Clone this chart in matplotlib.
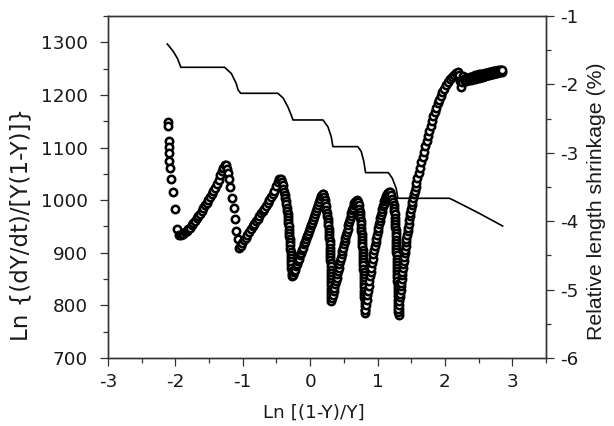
import matplotlib
matplotlib.use("Agg")
import matplotlib.pyplot as plt
from matplotlib.ticker import MultipleLocator

# --- scatter: Ln {(dY/dt)/[Y(1-Y)]} vs Ln [(1-Y)/Y] ---
col1_x = [-2.107, -2.107, -2.096, -2.096, -2.092, -2.092, -2.081, -2.067, -2.033, -2.007, -1.982, -1.945]
col1_y = [1148, 1140, 1113, 1101, 1089, 1075, 1062, 1041, 1015, 983, 945, 933]

rise1_x = [-1.91, -1.885, -1.86, -1.835, -1.81, -1.785, -1.76, -1.735, -1.71, -1.685, -1.66, -1.635, -1.61,
           -1.585, -1.56, -1.535, -1.51, -1.485, -1.46, -1.435, -1.41, -1.385, -1.36, -1.335, -1.31, -1.29, -1.27]
rise1_y = [933, 936, 939, 942, 945, 948, 952, 957, 961, 966, 970, 974, 980,
           985, 990, 995, 1001, 1006, 1012, 1018, 1024, 1030, 1038, 1047, 1056, 1062, 1067]

col2_x = [-1.25, -1.235, -1.22, -1.205, -1.19, -1.155, -1.135, -1.12, -1.095, -1.07, -1.055]
col2_y = [1066, 1060, 1051, 1040, 1025, 1005, 986, 964, 942, 926, 910]

rise2_x = [-1.03, -1.005, -0.98, -0.955, -0.93, -0.905, -0.88, -0.855, -0.83, -0.805, -0.78, -0.755,
           -0.73, -0.705, -0.68, -0.655, -0.63, -0.605, -0.58, -0.555, -0.53, -0.505, -0.48, -0.455]
rise2_y = [913, 918, 924, 929, 934, 940, 945, 950, 955, 960, 965, 970,
           975, 979, 984, 989, 995, 1000, 1006, 1011, 1018, 1026, 1034, 1041]

fall3_x = [-0.44, -0.425, -0.41, -0.398, -0.386, -0.376, -0.368, -0.36, -0.352, -0.346, -0.34, -0.335,
           -0.331, -0.327, -0.323, -0.319, -0.315, -0.311, -0.307, -0.303, -0.30, -0.297, -0.294, -0.291,
           -0.288, -0.285, -0.282, -0.279, -0.277, -0.275, -0.273, -0.27]
fall3_y = [1040, 1034, 1028, 1022, 1016, 1010, 1004, 998, 992, 986, 980, 974,
           968, 962, 956, 950, 944, 938, 932, 926, 920, 914, 908, 902,
           896, 890, 884, 878, 872, 866, 860, 855]

rise3_x = [-0.255, -0.24, -0.225, -0.21, -0.195, -0.18, -0.165, -0.15, -0.135, -0.12, -0.105, -0.09,
           -0.075, -0.06, -0.045, -0.03, -0.015, 0.0, 0.015, 0.03, 0.045, 0.06, 0.075, 0.09,
           0.105, 0.12, 0.135, 0.15, 0.165, 0.18, 0.19]
rise3_y = [858, 863, 868, 874, 879, 884, 889, 895, 900, 905, 910, 916,
           921, 926, 931, 936, 941, 947, 952, 957, 962, 968, 974, 980,
           985, 991, 997, 1002, 1007, 1010, 1012]

fall4_x = [0.195, 0.208, 0.218, 0.226, 0.234, 0.241, 0.248, 0.254, 0.26, 0.265, 0.27, 0.274,
           0.278, 0.282, 0.285, 0.288, 0.291, 0.293, 0.295, 0.297, 0.299, 0.301, 0.302, 0.303,
           0.304, 0.305, 0.306, 0.307, 0.308, 0.309, 0.31, 0.311, 0.312, 0.313, 0.314]
fall4_y = [1012, 1006, 1000, 994, 988, 982, 976, 970, 964, 958, 952, 946,
           940, 934, 928, 922, 916, 910, 904, 898, 892, 886, 880, 874,
           868, 862, 856, 850, 844, 838, 832, 826, 820, 814, 809]

rise4_x = [0.325, 0.336, 0.347, 0.358, 0.369, 0.38, 0.391, 0.402, 0.413, 0.424, 0.435, 0.446,
           0.457, 0.468, 0.479, 0.49, 0.501, 0.512, 0.523, 0.534, 0.545, 0.556, 0.567, 0.578,
           0.589, 0.6, 0.611, 0.622, 0.633, 0.644, 0.655, 0.666, 0.677, 0.688]
rise4_y = [814, 820, 827, 833, 840, 846, 852, 859, 865, 871, 878, 884,
           890, 897, 903, 909, 916, 922, 928, 934, 940, 946, 952, 958,
           964, 970, 975, 981, 986, 990, 994, 997, 999, 1000]

fall5_x = [0.714, 0.722, 0.729, 0.736, 0.742, 0.747, 0.751, 0.755, 0.758, 0.761, 0.764, 0.766,
           0.769, 0.771, 0.774, 0.777, 0.78, 0.783, 0.785, 0.787, 0.789, 0.791, 0.793, 0.795,
           0.797, 0.799, 0.801, 0.803, 0.804, 0.805, 0.806, 0.807, 0.808, 0.809, 0.81, 0.811]
fall5_y = [996, 990, 984, 978, 972, 966, 960, 954, 948, 942, 936, 930,
           924, 918, 912, 906, 900, 894, 888, 882, 876, 870, 864, 858,
           852, 846, 840, 834, 828, 822, 816, 810, 804, 798, 792, 786]

rise5_x = [0.82, 0.83, 0.84, 0.85, 0.86, 0.87, 0.88, 0.89, 0.90, 0.91, 0.92, 0.93, 0.94,
           0.95, 0.96, 0.97, 0.98, 0.99, 1.00, 1.01, 1.02, 1.03, 1.04, 1.05, 1.06,
           1.07, 1.08, 1.09, 1.10, 1.11, 1.12, 1.13, 1.14, 1.15, 1.16, 1.17, 1.18]
rise5_y = [792, 801, 810, 819, 828, 837, 846, 855, 863, 872, 880, 889, 897,
           905, 913, 920, 927, 934, 941, 948, 955, 961, 967, 972, 978,
           983, 988, 993, 998, 1002, 1005, 1008, 1011, 1013, 1014, 1015, 1015]

fall6_x = [1.20, 1.218, 1.23, 1.237, 1.243, 1.249, 1.254, 1.258, 1.261, 1.264, 1.266, 1.268, 1.27,
           1.272, 1.274, 1.276, 1.277, 1.279, 1.281, 1.283, 1.285, 1.286, 1.288, 1.29, 1.291,
           1.293, 1.294, 1.296, 1.297, 1.299, 1.30, 1.302, 1.304, 1.306, 1.308, 1.31, 1.312, 1.314, 1.316]
fall6_y = [1009, 1003, 997, 991, 985, 979, 973, 967, 961, 955, 949, 943, 937,
           931, 925, 919, 913, 907, 901, 895, 889, 883, 877, 871, 865,
           859, 853, 847, 841, 835, 829, 823, 817, 811, 805, 799, 793, 787, 781]

rise6_x = [1.305, 1.311, 1.317, 1.323, 1.329, 1.335, 1.341, 1.346, 1.352, 1.357, 1.363, 1.368,
           1.374, 1.380, 1.387, 1.394, 1.401, 1.408, 1.415, 1.422, 1.429, 1.437, 1.445, 1.452,
           1.46, 1.468, 1.477, 1.487, 1.497, 1.507, 1.518, 1.529, 1.541, 1.553, 1.564, 1.575,
           1.59, 1.61, 1.63, 1.65, 1.671, 1.69, 1.71, 1.73, 1.75, 1.77, 1.79, 1.81, 1.83,
           1.85, 1.87, 1.89, 1.91, 1.935, 1.96, 1.985, 2.01, 2.04, 2.07, 2.10, 2.13, 2.16]
rise6_y = [787, 794, 801, 808, 815, 822, 829, 836, 843, 850, 857, 864,
           871, 878, 885, 892, 899, 906, 913, 920, 927, 934, 941, 948,
           955, 962, 969, 976, 983, 990, 997, 1004, 1011, 1018, 1025, 1032,
           1042, 1052, 1062, 1072, 1082, 1092, 1102, 1112, 1122, 1132, 1141, 1150, 1159,
           1168, 1176, 1184, 1191, 1198, 1205, 1212, 1219, 1225, 1230, 1234, 1238, 1241]

top_x = [2.19, 2.21, 2.22, 2.24, 2.26, 2.27,
         2.29, 2.30, 2.31, 2.32, 2.33, 2.34, 2.35, 2.36, 2.37, 2.38, 2.39, 2.40, 2.41, 2.42,
         2.43, 2.44, 2.45, 2.46, 2.47, 2.48, 2.49, 2.50, 2.51, 2.52, 2.53, 2.54, 2.55, 2.56,
         2.57, 2.58, 2.59, 2.60, 2.61, 2.62, 2.63, 2.64, 2.65, 2.66, 2.67, 2.68, 2.69, 2.70,
         2.71, 2.72, 2.73, 2.74, 2.75, 2.76, 2.77, 2.78, 2.79, 2.80, 2.81, 2.82, 2.83, 2.84, 2.85]
top_y = [1244, 1238, 1226, 1215, 1224, 1236,
         1231, 1226, 1232, 1227, 1233, 1228, 1233, 1229, 1234, 1229, 1235, 1230, 1235, 1230,
         1236, 1231, 1237, 1232, 1237, 1232, 1238, 1233, 1239, 1234, 1239, 1234, 1240, 1235,
         1240, 1236, 1241, 1236, 1242, 1237, 1242, 1238, 1243, 1238, 1243, 1239, 1244, 1239,
         1245, 1240, 1245, 1241, 1246, 1241, 1246, 1242, 1247, 1243, 1247, 1243, 1248, 1244, 1247]

# --- line: relative length shrinkage (%) on the right axis ---
shrink_x = [-2.12, -2.07, -2.03, -1.97, -1.93, -1.92, -1.60, -1.27, -1.17, -1.10, -1.07, -1.03,
            -0.75, -0.48, -0.40, -0.33, -0.28, -0.255, 0.0, 0.19, 0.264, 0.314, 0.338, 0.5,
            0.708, 0.758, 0.797, 0.822, 1.0, 1.16, 1.218, 1.277, 1.301, 1.7, 2.067, 2.141, 2.5, 2.856]
shrink_y = [-1.41, -1.47, -1.52, -1.62, -1.72, -1.75, -1.75, -1.75, -1.84, -1.98, -2.08, -2.13,
            -2.13, -2.13, -2.20, -2.33, -2.45, -2.52, -2.52, -2.52, -2.62, -2.77, -2.91, -2.91,
            -2.91, -2.98, -3.13, -3.29, -3.29, -3.29, -3.37, -3.52, -3.665, -3.665, -3.665, -3.70, -3.88, -4.07]

ln_x = (col1_x + rise1_x + col2_x + rise2_x + fall3_x + rise3_x + fall4_x + rise4_x
        + fall5_x + rise5_x + fall6_x + rise6_x + top_x)
ln_y = (col1_y + rise1_y + col2_y + rise2_y + fall3_y + rise3_y + fall4_y + rise4_y
        + fall5_y + rise5_y + fall6_y + rise6_y + top_y)

plt.rcParams["font.family"] = "DejaVu Sans"
plt.rcParams["axes.unicode_minus"] = False
axis_color = "#333333"

fig = plt.figure(figsize=(6.14, 4.26), dpi=100)
ax = fig.add_axes([108 / 614, 1 - 358 / 426, 438 / 614, 342 / 426])
ax2 = ax.twinx()

ax.plot(ln_x, ln_y, ls="none", marker="o", ms=5.3, mfc="white", mec="black", mew=1.85)
ax2.plot(shrink_x, shrink_y, color="black", lw=1.2)

ax.set_xlim(-3, 3.5)
ax.set_ylim(700, 1350)
ax2.set_ylim(-6, -1)

ax.xaxis.set_major_locator(MultipleLocator(1))
ax.xaxis.set_minor_locator(MultipleLocator(0.5))
ax.yaxis.set_major_locator(MultipleLocator(100))
ax.yaxis.set_minor_locator(MultipleLocator(50))
ax2.yaxis.set_major_locator(MultipleLocator(1))
ax2.yaxis.set_minor_locator(MultipleLocator(0.5))
ax.set_yticks(range(700, 1301, 100))

for a in (ax, ax2):
    a.tick_params(which="major", direction="out", length=5.5, width=0.9,
                  color=axis_color, labelsize=13.2, labelcolor="#1a1a1a")
    a.tick_params(which="minor", direction="out", length=3.8, width=0.9, color=axis_color)
    for sp in a.spines.values():
        sp.set_color(axis_color)
        sp.set_linewidth(1.0)
ax.tick_params(axis="x", which="major", pad=5.5)
ax.tick_params(axis="y", which="major", pad=9)
ax2.tick_params(which="major", pad=5)

ax.set_xlabel("Ln [(1-Y)/Y]", fontsize=13.2, color="#1a1a1a", labelpad=9, x=0.471)
ax.set_ylabel("Ln {(dY/dt)/[Y(1-Y)]}", fontsize=16.5, color="#1a1a1a", labelpad=6, y=0.389)
ax2.set_ylabel("Relative length shrinkage (%)", fontsize=15.3, family="Liberation Sans",
               color="#1a1a1a", labelpad=6, y=0.459)

fig.savefig("out.png", dpi=100)
